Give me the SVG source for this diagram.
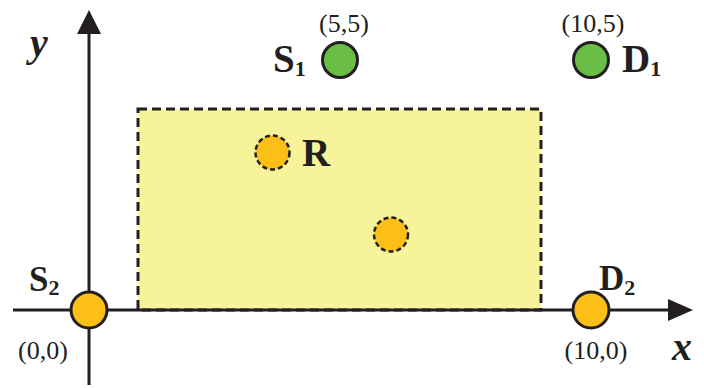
<svg xmlns="http://www.w3.org/2000/svg" width="704" height="388" viewBox="0 0 704 388">
<style>
.lbl{font-family:"Liberation Serif","Times New Roman",serif;font-weight:bold;font-size:39px;fill:#231f20}
.lbl2{font-size:35px}
.ax{font-family:"Liberation Serif","Times New Roman",serif;font-weight:bold;font-style:italic;font-size:40px;fill:#231f20}
.co{font-family:"Liberation Serif","Times New Roman",serif;font-size:26px;fill:#231f20}
.sub{font-size:22px}
.solid{stroke:#231f20;stroke-width:3}
.green{fill:#6abd45}
.orange{fill:#fbbf17}
.dash{stroke:#231f20;stroke-width:2.5;stroke-dasharray:5 3}
</style>
<g id="region">
<rect x="138" y="109" width="403" height="201" fill="#f7f39a" stroke="#231f20" stroke-width="3" stroke-dasharray="9 5"/>
</g>
<g id="connectors">
<line x1="89" y1="385" x2="89" y2="34" stroke="#231f20" stroke-width="3"/>
<path d="M89,10 L101,34 L77,34 z" fill="#231f20"/>
<line x1="13" y1="310" x2="668" y2="310" stroke="#231f20" stroke-width="3"/>
<path d="M693,310 L668,299 L668,321 z" fill="#231f20"/>
</g>
<text class="ax" x="30" y="56">y</text>
<text class="ax" x="672" y="360">x</text>
<g id="S1">
<circle cx="340" cy="60" r="17.5" class="green solid"/>
<text class="lbl" x="273" y="72">S<tspan class="sub" dy="4">1</tspan></text>
<text class="co" x="344" y="32" text-anchor="middle">(5,5)</text>
</g>
<g id="D1">
<circle cx="591" cy="60" r="17.5" class="green solid"/>
<text class="lbl" x="622" y="72">D<tspan class="sub" dy="4">1</tspan></text>
<text class="co" x="593" y="32" text-anchor="middle">(10,5)</text>
</g>
<g id="R">
<circle cx="272.5" cy="152.5" r="17" class="orange dash"/>
<text class="lbl" x="302" y="166">R</text>
</g>
<g id="R2">
<circle cx="391" cy="234.5" r="17" class="orange dash"/>
</g>
<g id="S2">
<circle cx="89" cy="310" r="18" class="orange solid"/>
<text class="lbl lbl2" x="29" y="291">S<tspan class="sub" dy="4">2</tspan></text>
<text class="co" x="43" y="359" text-anchor="middle">(0,0)</text>
</g>
<g id="D2">
<circle cx="591" cy="310" r="18" class="orange solid"/>
<text class="lbl lbl2" x="599" y="290">D<tspan class="sub" dy="5">2</tspan></text>
<text class="co" x="596" y="359" text-anchor="middle">(10,0)</text>
</g>
</svg>
